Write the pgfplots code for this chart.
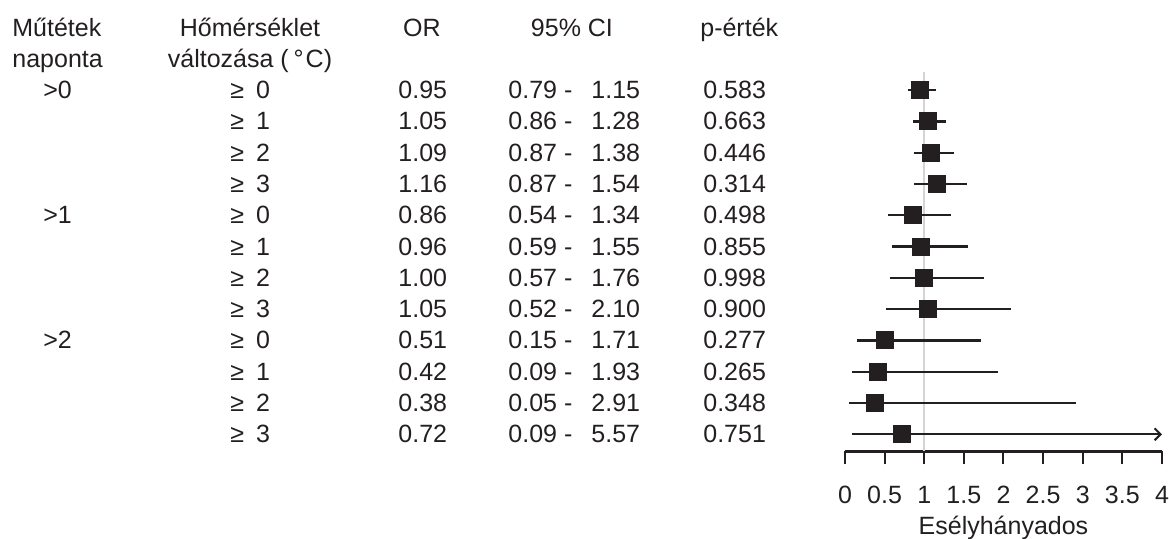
\documentclass[border=0pt]{standalone}
\usepackage{pgfplots}
\pgfplotsset{compat=1.18}
\usepackage{pgfplotstable}
\usepackage{fontspec}
\setmainfont{Liberation Sans}
\usetikzlibrary{arrows.meta}

\pgfplotstableread{
row thr or lo hi p
1 0 0.95 0.79 1.15 0.583
2 1 1.05 0.86 1.28 0.663
3 2 1.09 0.87 1.38 0.446
4 3 1.16 0.87 1.54 0.314
5 0 0.86 0.54 1.34 0.498
6 1 0.96 0.59 1.55 0.855
7 2 1.00 0.57 1.76 0.998
8 3 1.05 0.52 2.10 0.900
9 0 0.51 0.15 1.71 0.277
10 1 0.42 0.09 1.93 0.265
11 2 0.38 0.05 2.91 0.348
12 3 0.72 0.09 5.57 0.751
}\data

\definecolor{ink}{HTML}{231F20}
\definecolor{refgray}{HTML}{D4D4D4}

\begin{document}
\fontsize{12.5}{14}\selectfont
\begin{tikzpicture}[font=\fontsize{12.5}{14}\selectfont,
  tl/.style={anchor=base west, inner sep=0pt, text=ink},
  tc/.style={anchor=base, inner sep=0pt, text=ink}]
\useasboundingbox (0,0) rectangle (584.5pt,-269.5pt);
\begin{axis}[
  at={(422.5pt,-225.75pt)}, anchor=south west,
  scale only axis, width=158.5pt, height=189.75pt,
  xmin=0, xmax=4, ymin=-12.55, ymax=-0.42,
  axis x line=bottom, axis y line=none,
  x axis line style={-, line width=1.3pt, draw=ink},
  xtick={0,0.5,1,1.5,2,2.5,3,3.5,4},
  xticklabels={0,0.5,1,1.5,2,2.5,3,3.5,4},
  major tick length=6.5pt, tick align=outside,
  xtick style={line width=1pt, draw=ink},
  xticklabel style={anchor=base, yshift=-19.25pt, inner sep=0pt, text=ink},
  xlabel={Esélyhányados},
  xlabel style={at={(axis description cs:0.5,0)}, anchor=base, yshift=-41.75pt, inner sep=0pt, text=ink},
  clip=false,
]
% reference line at OR = 1
\addplot[refgray, line width=1.2pt, forget plot] coordinates {(1,-0.42) (1,-12.55)};
% confidence intervals
\addplot[only marks, mark=none, skip coords between index={11}{12},
  error bars/.cd, x dir=both, x explicit, error mark=none,
  error bar style={line width=1.1pt, draw=ink}]
  table[x=or, y expr=-\thisrow{row},
        x error plus expr=\thisrow{hi}-\thisrow{or},
        x error minus expr=\thisrow{or}-\thisrow{lo}] {\data};
% last CI exceeds axis: arrow to the axis end
\addplot[ink, line width=1pt, -{Straight Barb[length=3pt,width=6pt]}] coordinates {(0.09,-12) (4,-12)};
% point estimates
\addplot[only marks, mark=square*, mark size=4.2pt, mark options={fill=ink, draw=ink, line width=0.6pt}]
  table[x=or, y expr=-\thisrow{row}] {\data};

% header
\node[tl] at (axis cs:-10.511,0.73) {Műtétek};
\node[tl] at (axis cs:-10.511,-0.27) {naponta};
\node[tc] at (axis cs:-7.508,0.73) {Hőmérséklet};
\node[tc] at (axis cs:-7.508,-0.27) {változása (\hspace{2.5pt}°\hspace{1pt}C)};
\node[tc] at (axis cs:-5.338,0.73) {OR};
\node[tc] at (axis cs:-3.445,0.73) {95\% CI};
\node[tl] at (axis cs:-1.830,0.73) {p-érték};
% groups
\node[tl] at (axis cs:-10.120,-1.27) {>0};
\node[tl] at (axis cs:-10.120,-5.27) {>1};
\node[tl] at (axis cs:-10.120,-9.27) {>2};
% rows
\foreach \r/\t/\o/\l/\u/\p in {
 1/0/0.95/0.79/1.15/0.583, 2/1/1.05/0.86/1.28/0.663, 3/2/1.09/0.87/1.38/0.446,
 4/3/1.16/0.87/1.54/0.314, 5/0/0.86/0.54/1.34/0.498, 6/1/0.96/0.59/1.55/0.855,
 7/2/1.00/0.57/1.76/0.998, 8/3/1.05/0.52/2.10/0.900, 9/0/0.51/0.15/1.71/0.277,
 10/1/0.42/0.09/1.93/0.265, 11/2/0.38/0.05/2.91/0.348, 12/3/0.72/0.09/5.57/0.751}{
  \edef\tmp{%
   \noexpand\node[tl] at (axis cs:-7.760,-\r-0.27) {≥\noexpand\hspace{6pt}\t};
   \noexpand\node[tl] at (axis cs:-5.640,-\r-0.27) {\o};
   \noexpand\node[tl] at (axis cs:-4.252,-\r-0.27) {\l\noexpand\ -};
   \noexpand\node[tl] at (axis cs:-3.205,-\r-0.27) {\u};
   \noexpand\node[tl] at (axis cs:-1.792,-\r-0.27) {\p};
  }\tmp
}
\end{axis}
\end{tikzpicture}
\end{document}
